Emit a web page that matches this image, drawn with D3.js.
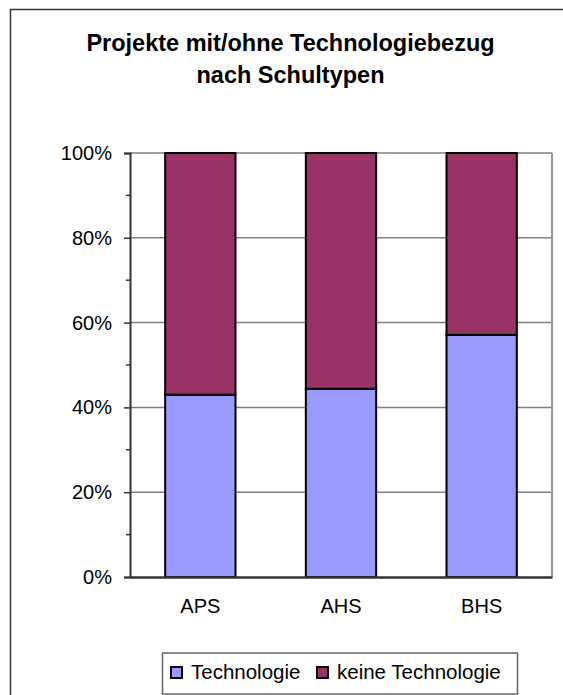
<!DOCTYPE html>
<html>
<head>
    <meta charset="utf-8">
    <title>Projekte mit/ohne Technologiebezug</title>
    <script src="https://d3js.org/d3.v7.min.js"></script>
    <style>
        body { margin: 0; background: #fff; }
        text { font-family: "Liberation Sans", Arial, sans-serif; }
    </style>
</head>
<body>
    <script>
        // Schultypen
        const categories = ["APS", "AHS", "BHS"];
        // Anteile in Prozent
        const technologie = [43.0, 44.4, 57.1];
        const keineTechnologie = [57.0, 55.6, 42.9];
        const seriesNames = ["Technologie", "keine Technologie"];
        const yTicks = [0, 20, 40, 60, 80, 100];
        const yMinorTicks = [10, 30, 50, 70, 90];

        const width = 563, height = 695;
        const plot = { left: 130, right: 552, top: 153, bottom: 577 };
        const colors = ["#9999ff", "#993366"];

        const svg = d3.select("body").append("svg")
            .attr("width", width)
            .attr("height", height);

        // Rahmen der Grafik
        svg.append("rect")
            .attr("x", 10.5).attr("y", 9.5)
            .attr("width", 600).attr("height", 720)
            .attr("fill", "none")
            .attr("stroke", "#333")
            .attr("stroke-width", 1.5);

        // Titel
        const title = svg.append("text")
            .attr("text-anchor", "middle")
            .attr("font-size", "23.5px")
            .attr("font-weight", "bold");
        title.append("tspan").attr("x", 290.5).attr("y", 51).text("Projekte mit/ohne Technologiebezug");
        title.append("tspan").attr("x", 290.5).attr("y", 83).text("nach Schultypen");

        const x = d3.scaleBand()
            .domain(categories)
            .range([plot.left, plot.right])
            .paddingInner(0.5)
            .paddingOuter(0.25);

        const y = d3.scaleLinear()
            .domain([0, 100])
            .range([plot.bottom, plot.top]);

        // Gitterlinien
        svg.append("g")
            .selectAll("line")
            .data(yTicks.slice(1))
            .join("line")
            .attr("x1", plot.left).attr("x2", plot.right)
            .attr("y1", d => y(d)).attr("y2", d => y(d))
            .attr("stroke", "#808080")
            .attr("stroke-width", 1.5);

        // rechter Rand
        svg.append("line")
            .attr("x1", plot.right).attr("x2", plot.right)
            .attr("y1", plot.top).attr("y2", plot.bottom)
            .attr("stroke", "#999")
            .attr("stroke-width", 2);

        // gestapelte Balken
        const rows = categories.map((c, i) => ({ cat: c, Technologie: technologie[i], "keine Technologie": keineTechnologie[i] }));
        const stacked = d3.stack().keys(seriesNames)(rows);

        svg.append("g")
            .selectAll("g")
            .data(stacked)
            .join("g")
            .attr("fill", (d, i) => colors[i])
            .selectAll("rect")
            .data(d => d)
            .join("rect")
            .attr("x", d => x(d.data.cat))
            .attr("y", d => y(d[1]))
            .attr("width", x.bandwidth())
            .attr("height", d => y(d[0]) - y(d[1]))
            .attr("stroke", "#000")
            .attr("stroke-width", 2);

        // y-Achse
        const yAxis = svg.append("g")
            .attr("transform", `translate(${plot.left},0)`)
            .call(d3.axisLeft(y).tickValues(yTicks).tickSize(6).tickPadding(12).tickFormat(d => d + "%"));
        yAxis.select(".domain").attr("stroke", "#333").attr("stroke-width", 2);
        yAxis.selectAll(".tick line").attr("stroke", "#333").attr("stroke-width", 1.5);
        yAxis.selectAll(".tick text")
            .attr("font-size", "20px")
            .attr("font-family", "Liberation Sans, Arial, sans-serif")
            .attr("fill", "#000")
            .attr("dy", "0.32em");

        // Hilfsstriche
        svg.append("g")
            .selectAll("line")
            .data(yMinorTicks)
            .join("line")
            .attr("x1", plot.left - 4).attr("x2", plot.left)
            .attr("y1", d => y(d)).attr("y2", d => y(d))
            .attr("stroke", "#333")
            .attr("stroke-width", 1.5);

        // x-Achse
        const xAxis = svg.append("g")
            .attr("transform", `translate(0,${plot.bottom})`)
            .call(d3.axisBottom(x).tickSize(0).tickPadding(22));
        xAxis.select(".domain").attr("stroke", "#333").attr("stroke-width", 2.5);
        xAxis.selectAll(".tick text")
            .attr("font-size", "20px")
            .attr("font-family", "Liberation Sans, Arial, sans-serif")
            .attr("fill", "#000");

        // Legende
        const legend = svg.append("g");
        legend.append("rect")
            .attr("x", 162.5).attr("y", 653)
            .attr("width", 355).attr("height", 41)
            .attr("fill", "#fff")
            .attr("stroke", "#666")
            .attr("stroke-width", 1.5);

        const legendX = [170, 316];
        seriesNames.forEach((name, i) => {
            legend.append("rect")
                .attr("x", legendX[i] + 1).attr("y", 667)
                .attr("width", 11).attr("height", 11)
                .attr("fill", colors[i])
                .attr("stroke", "#000")
                .attr("stroke-width", 2);
            legend.append("text")
                .attr("x", legendX[i] + 21)
                .attr("y", 679)
                .attr("font-size", "20.5px")
                .text(name);
        });
    </script>
</body>
</html>
